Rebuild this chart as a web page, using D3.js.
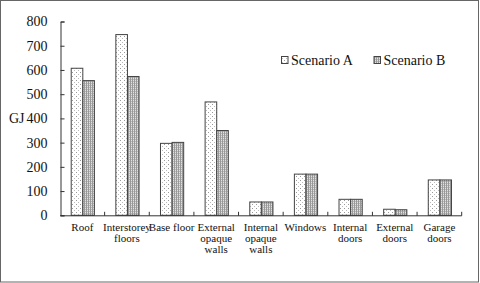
<!DOCTYPE html>
<html><head><meta charset="utf-8">
<script src="https://cdn.jsdelivr.net/npm/d3@7"></script>
<style>body{margin:0;background:#fff}svg{display:block}</style>
</head><body><svg id="c" width="480" height="283"></svg>
<script>
const categories = ["Roof","Interstorey\nfloors","Base floor","External\nopaque\nwalls","Internal\nopaque\nwalls","Windows","Internal\ndoors","External\ndoors","Garage\ndoors"];
const seriesNames = ["Scenario A","Scenario B"];
const scenarioA = [607,746,297,468,55,170,66,25,146];
const scenarioB = [556,573,301,350,55,170,66,23,146];
const yTicks = [0,100,200,300,400,500,600,700,800];

const FONT = "'Liberation Serif', 'Times New Roman', Times, 'DejaVu Serif', serif";
const svg = d3.select("#c");
const defs = svg.append("defs");
const pA = defs.append("pattern").attr("id","pA").attr("patternUnits","userSpaceOnUse").attr("width",4).attr("height",4);
pA.append("rect").attr("width",4).attr("height",4).attr("fill","#fff");
pA.append("rect").attr("x",0).attr("y",0).attr("width",1).attr("height",1).attr("fill","#999");
pA.append("rect").attr("x",2).attr("y",2).attr("width",1).attr("height",1).attr("fill","#bbb");
const pB = defs.append("pattern").attr("id","pB").attr("patternUnits","userSpaceOnUse").attr("width",2).attr("height",2);
pB.append("rect").attr("width",2).attr("height",2).attr("fill","#e2e2e2");
pB.append("rect").attr("x",0).attr("y",0).attr("width",1).attr("height",2).attr("fill","#999");
pB.append("rect").attr("x",1).attr("y",1).attr("width",1).attr("height",1).attr("fill","#b8b8b8");

svg.append("rect").attr("x",0.5).attr("y",0.5).attr("width",478).attr("height",281.5).attr("fill","none").attr("stroke","#666");

const x0 = d3.scaleBand().domain(categories).range([60,461.7]).padding(0);
const y = d3.scaleLinear().domain([0,800]).range([215.3,21.5]);
const bw = 11.6;
const x1 = d3.scaleBand().domain(seriesNames).range([0,bw*2]).padding(0);
const off = (x0.bandwidth()-bw*2)/2;

const data = categories.map((c,i)=>({c, vals:[scenarioA[i],scenarioB[i]]}));
const g = svg.append("g");
data.forEach(d=>{
  d.vals.forEach((v,j)=>{
    g.append("rect")
      .attr("x", x0(d.c)+off+x1(seriesNames[j])+0.5)
      .attr("y", y(v))
      .attr("width", x1.bandwidth())
      .attr("height", y(0)-y(v))
      .attr("fill", j===0?"url(#pA)":"url(#pB)")
      .attr("stroke","#444").attr("stroke-width",1);
  });
});

// y axis
const ya = svg.append("g").attr("transform","translate(60.5,0)")
  .call(d3.axisLeft(y).tickValues(yTicks).tickSize(-4).tickPadding(13).tickFormat(d3.format("d")));
ya.attr("font-family",null);
ya.select(".domain").attr("stroke","#333");
ya.selectAll(".tick line").attr("stroke","#333");
ya.selectAll("text").attr("font-size",14).style("font-family",FONT).attr("fill","#111");

// x axis
const xa = svg.append("g").attr("transform",`translate(0,${y(0)+0.5})`);
xa.append("line").attr("x1",60).attr("x2",461.7).attr("stroke","#333");
const bounds = categories.map(c=>x0(c)).concat([x0.range()[1]]).slice(1);
xa.selectAll("line.t").data(bounds).enter().append("line").attr("class","t")
  .attr("x1",d=>d).attr("x2",d=>d).attr("y1",0).attr("y2",-4).attr("stroke","#333");

const lbl = svg.append("g");
categories.forEach(c=>{
  const t = lbl.append("text").attr("text-anchor","middle").attr("font-size",11).style("font-family",FONT).attr("fill","#111")
    .attr("transform",`translate(${x0(c)+x0.bandwidth()/2},230.5)`);
  c.split("\n").forEach((ln,i)=>t.append("tspan").attr("x",0).attr("y",i*11.3).text(ln));
});

svg.append("text").attr("x",9).attr("y",123).attr("font-size",14).style("font-family",FONT).attr("fill","#111").text("GJ");

// legend
const leg = svg.append("g");
const legX = [281,373.5];
seriesNames.forEach((s,j)=>{
  leg.append("rect").attr("x",legX[j]+0.5).attr("y",56.5).attr("width",6.5).attr("height",7)
    .attr("fill", j===0?"url(#pA)":"url(#pB)").attr("stroke","#444");
  leg.append("text").attr("x",legX[j]+10).attr("y",64.5).attr("font-size",14).style("font-family",FONT).attr("fill","#111").text(s);
});
</script></body></html>
